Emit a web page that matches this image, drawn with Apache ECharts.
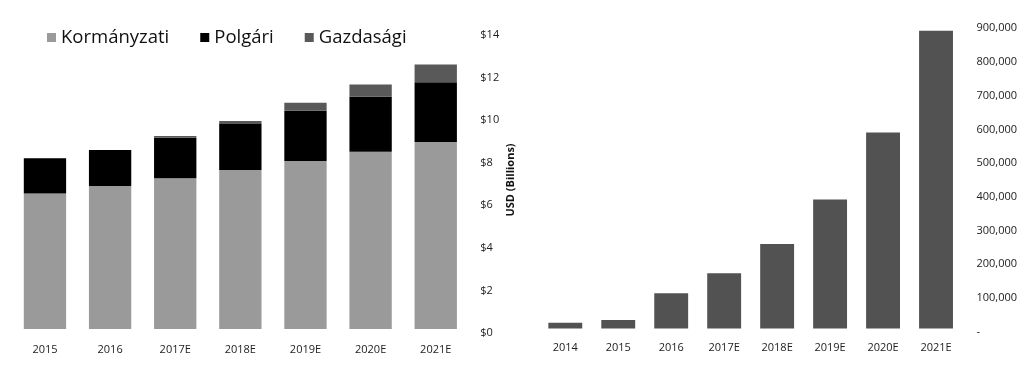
<!DOCTYPE html>
<html>
<head>
<meta charset="utf-8">
<script src="https://cdn.jsdelivr.net/npm/echarts@6/dist/echarts.min.js"></script>
<style>
html,body{margin:0;padding:0;background:#fff;}
#c{width:1024px;height:368px;}
</style>
</head>
<body>
<div id="c"></div>
<script>
// Left chart: stacked bars (USD billions)
const leftCategories = ['2015', '2016', '2017E', '2018E', '2019E', '2020E', '2021E'];
const kormanyzati = [6.37, 6.72, 7.08, 7.47, 7.89, 8.33, 8.78];
const polgari     = [1.65, 1.69, 1.91, 2.16, 2.36, 2.58, 2.81];
const gazdasagi   = [0, 0, 0.08, 0.14, 0.38, 0.58, 0.84];
const seriesNames = ['Kormányzati', 'Polgári', 'Gazdasági'];
const leftAxisName = 'USD (Billions)';

// Right chart: single bars
const rightCategories = ['2014', '2015', '2016', '2017E', '2018E', '2019E', '2020E', '2021E'];
const rightValues = [17000, 25000, 104500, 164000, 251000, 383000, 582000, 884000];

const FONT = 'Open Sans';
const labelColor = '#222';

const chart = echarts.init(document.getElementById('c'), null, {renderer: 'canvas'});
chart.setOption({
  backgroundColor: '#fff',
  animation: false,
  textStyle: {fontFamily: FONT},
  legend: {
    data: seriesNames,
    left: 42,
    top: 23,
    icon: 'rect',
    itemWidth: 9,
    itemHeight: 9,
    itemGap: 31,
    textStyle: {fontFamily: FONT, fontSize: 18.5, color: '#111'}
  },
  grid: [
    {left: 12.4, right: 555.7, top: 31, bottom: 39},
    {left: 538.8, right: 61.5, top: 25.3, bottom: 39.5}
  ],
  xAxis: [
    {
      type: 'category', gridIndex: 0, data: leftCategories,
      axisLine: {show: false}, axisTick: {show: false},
      axisLabel: {fontFamily: FONT, fontSize: 11, color: labelColor, margin: 15}
    },
    {
      type: 'category', gridIndex: 1, data: rightCategories,
      axisLine: {show: false}, axisTick: {show: false},
      axisLabel: {fontFamily: FONT, fontSize: 11, color: labelColor, margin: 14}
    }
  ],
  yAxis: [
    {
      type: 'value', gridIndex: 0, position: 'right', min: 0, max: 14, interval: 2,
      axisLine: {show: false}, axisTick: {show: false}, splitLine: {show: false},
      axisLabel: {fontFamily: FONT, fontSize: 11, color: labelColor, margin: 12,
        verticalAlign: 'top', lineHeight: 8, formatter: v => '$' + v},
      name: leftAxisName, nameLocation: 'middle', nameRotate: 90, nameGap: 37,
      nameTextStyle: {fontFamily: FONT, fontSize: 11, fontWeight: 'bold', color: '#111'}
    },
    {
      type: 'value', gridIndex: 1, position: 'right', min: 0, max: 900000, interval: 100000,
      axisLine: {show: false}, axisTick: {show: false}, splitLine: {show: false},
      axisLabel: {fontFamily: FONT, fontSize: 11, color: labelColor, margin: 14,
        verticalAlign: 'top', lineHeight: 6,
        formatter: v => v === 0 ? '-' : v.toLocaleString('en-US')}
    }
  ],
  series: [
    {name: seriesNames[0], type: 'bar', stack: 'a', xAxisIndex: 0, yAxisIndex: 0,
     barWidth: '65%', data: kormanyzati, itemStyle: {color: '#9a9a9a'}},
    {name: seriesNames[1], type: 'bar', stack: 'a', xAxisIndex: 0, yAxisIndex: 0,
     barWidth: '65%', data: polgari, itemStyle: {color: '#000000'}},
    {name: seriesNames[2], type: 'bar', stack: 'a', xAxisIndex: 0, yAxisIndex: 0,
     barWidth: '65%', data: gazdasagi, itemStyle: {color: '#595959'}},
    {name: 'right', type: 'bar', xAxisIndex: 1, yAxisIndex: 1,
     barWidth: '64%', data: rightValues, itemStyle: {color: '#525252'}}
  ]
});
</script>
</body>
</html>
